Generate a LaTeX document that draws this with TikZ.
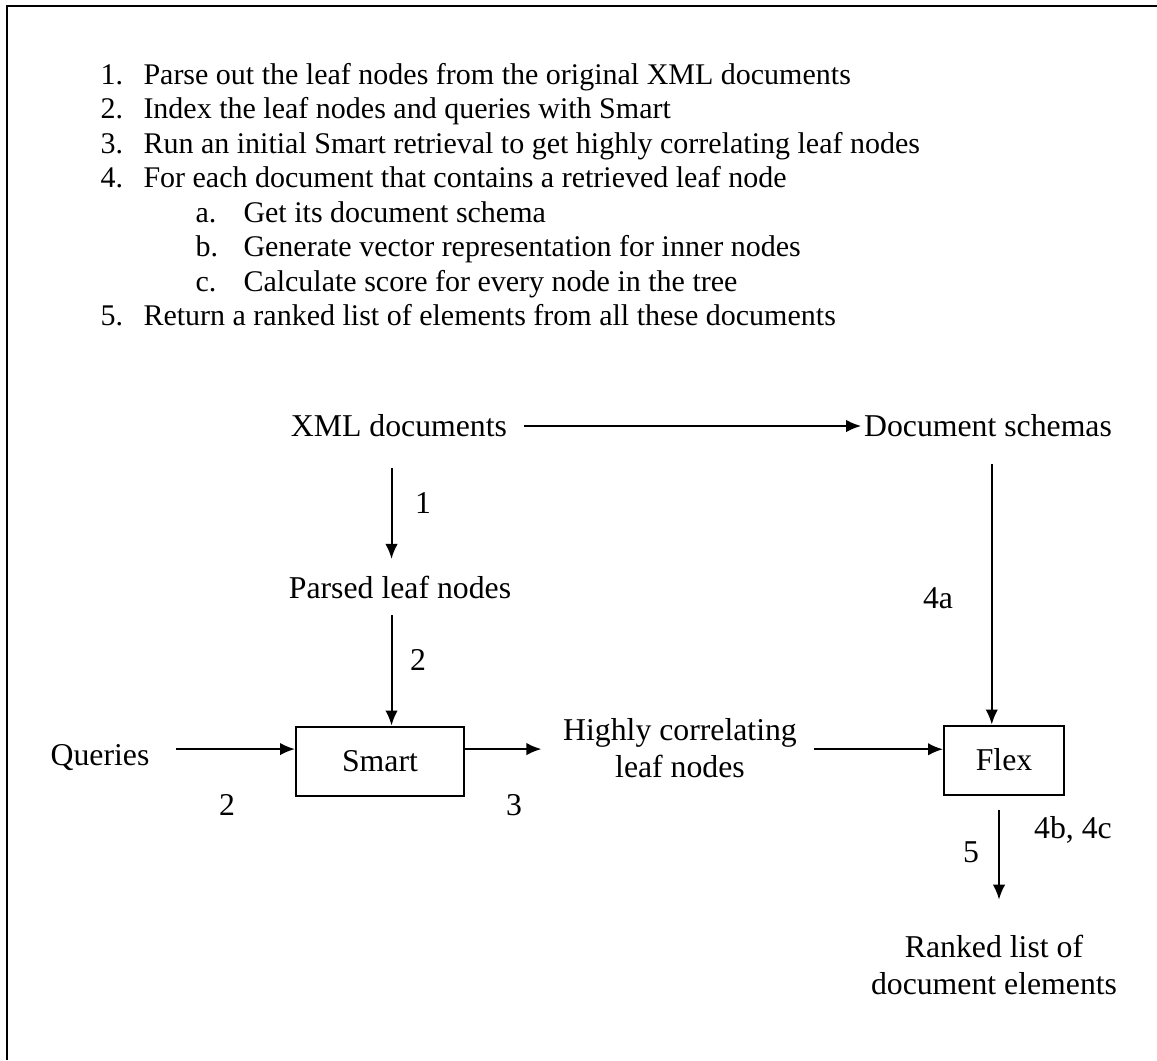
\documentclass[tikz,border=0pt]{standalone}
\usepackage{fontspec}
\setmainfont{Liberation Serif}
\usetikzlibrary{arrows.meta,positioning}

\tikzset{
  txt/.style={inner sep=0pt, font=\fontsize{12.7}{14.8}\selectfont},
  stepno/.style={inner sep=0pt, anchor=base west, font=\fontsize{12}{14}\selectfont},
  edgelbl/.style={txt},
  procbox/.style={draw, line width=0.8pt, inner sep=0pt, font=\fontsize{12.7}{14.8}\selectfont},
  flow/.style={line width=0.8pt, -{Latex[length=6pt,width=5pt]}},
}

\begin{document}
\begin{tikzpicture}[x=0.4pt,y=-0.4pt]
\useasboundingbox (0,0) rectangle (1157,1060);
% frame
\draw[line width=1pt] (7,1060) -- (7,6) -- (1157,6);

% steps
\node[stepno] (n1) at (100,84) {1.};
\node[stepno] (t1) at (143,84) {Parse out the leaf nodes from the original XML documents};
\node[stepno] (n2) at (100,118.5) {2.};
\node[stepno] (t2) at (143,118.5) {Index the leaf nodes and queries with Smart};
\node[stepno] (n3) at (100,153) {3.};
\node[stepno] (t3) at (143,153) {Run an initial Smart retrieval to get highly correlating leaf nodes};
\node[stepno] (n4) at (100,187.5) {4.};
\node[stepno] (t4) at (143,187.5) {For each document that contains a retrieved leaf node};
\node[stepno] (na) at (195,222) {a.};
\node[stepno] (ta) at (243,222) {Get its document schema};
\node[stepno] (nb) at (195,256.5) {b.};
\node[stepno] (tb) at (243,256.5) {Generate vector representation for inner nodes};
\node[stepno] (nc) at (195,291) {c.};
\node[stepno] (tc) at (243,291) {Calculate score for every node in the tree};
\node[stepno] (n5) at (100,325.5) {5.};
\node[stepno] (t5) at (143,325.5) {Return a ranked list of elements from all these documents};

% diagram
\node[txt] (xml) at (399,426) {XML documents};
\node[txt] (schemas) at (988,426) {Document schemas};
\node[txt] (parsed) at (400,587) {Parsed leaf nodes};
\node[txt] (queries) at (100,758) {Queries};
\node[procbox, minimum width=168*0.4pt, minimum height=69*0.4pt] (smart) at (380,761) {Smart};
\node[txt, align=center] (hcl) at (680,748) {Highly correlating\\leaf nodes};
\node[procbox, minimum width=120*0.4pt, minimum height=69*0.4pt] (flex) at (1004,760) {Flex};
\node[txt, align=center] (ranked) at (994,965) {Ranked list of\\document elements};

% edge labels
\node[edgelbl] (l1) at (423,503) {1};
\node[edgelbl] (l2a) at (418,660) {2};
\node[edgelbl] (l2b) at (227,805) {2};
\node[edgelbl] (l3) at (514,805) {3};
\node[edgelbl] (l4a) at (938,598) {4a};
\node[edgelbl] (l5) at (971,852) {5};
\node[edgelbl] (l4bc) at (1073,830) {4b, 4c};

\draw[flow, shorten <=6.5pt, shorten >=1pt] (xml.east) -- (schemas.west);
\draw[flow, shorten <=12pt, shorten >=6.5pt] (xml.south -| smart.72) -- (parsed.north -| smart.72);
\draw[flow, shorten <=6.5pt] (parsed.south -| smart.72) -- (smart.72);
\draw[flow, shorten <=10.5pt] (queries.east |- smart.172) -- (smart.172);
\draw[flow, shorten >=8.5pt] (smart.8) -- (hcl.west |- smart.8);
\draw[flow, shorten <=6.8pt] (hcl.east |- flex.170) -- (flex.170);
\draw[flow, shorten <=10.5pt] (schemas.south -| flex.109) -- (flex.109);
\draw[flow, shorten <=5.6pt, shorten >=14pt] (flex.262) -- (flex.262 |- ranked.north);
\end{tikzpicture}
\end{document}
